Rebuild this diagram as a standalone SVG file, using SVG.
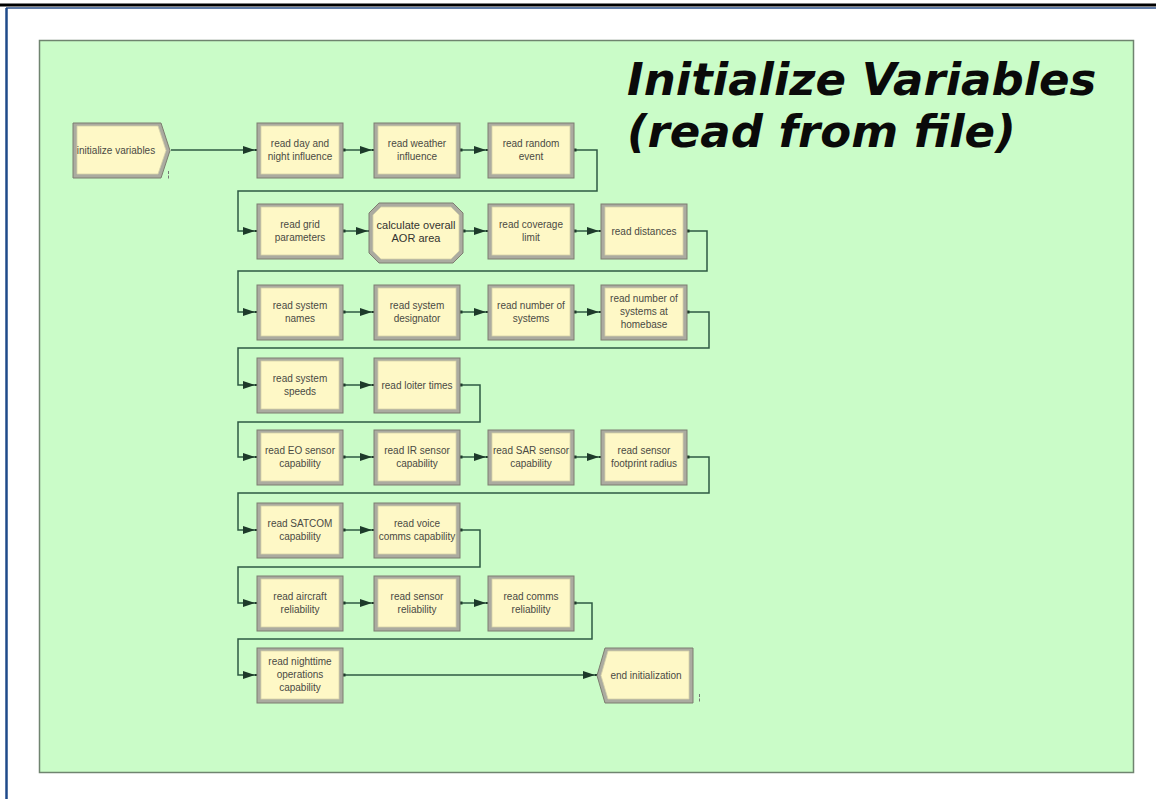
<svg xmlns="http://www.w3.org/2000/svg" width="1156" height="799" viewBox="0 0 1156 799">
<style>
.frame{fill:#ababa0;stroke:#7d7d70;stroke-width:1}
.face{fill:#fef8c6;stroke:#d6d2a8;stroke-width:0.8}
.lbl{font-family:"Liberation Sans",Arial,sans-serif;font-size:10px;fill:#4a4a44;text-anchor:middle}
.lblb{font-family:"Liberation Sans",Arial,sans-serif;font-size:11px;fill:#333330;text-anchor:middle}
.conn{fill:none;stroke:#2e5a43;stroke-width:1.5}
.title{font-family:"DejaVu Sans","Verdana",sans-serif;font-size:45px;font-weight:bold;font-style:italic;fill:#0a0a0a}
</style>
<defs>
<marker id="arr" markerUnits="userSpaceOnUse" markerWidth="14" markerHeight="9" refX="13" refY="4.5" orient="auto">
<path d="M0,0.5 L12,4.5 L0,8.5 z" fill="#1d3a2a"/>
<rect x="12" y="3.5" width="2" height="2" fill="#1d3a2a"/>
</marker>
<marker id="dot" markerUnits="userSpaceOnUse" markerWidth="4" markerHeight="4" refX="2" refY="2">
<rect x="0.5" y="0.5" width="3" height="3" fill="#1d3a2a"/>
</marker>
</defs>
<rect x="0" y="0" width="1156" height="799" fill="#ffffff"/>
<line x1="0" y1="5" x2="1156" y2="5" stroke="#000000" stroke-width="3"/>
<line x1="6" y1="8" x2="1156" y2="8" stroke="#2a4f8a" stroke-width="1.5"/>
<line x1="6.5" y1="8" x2="6.5" y2="799" stroke="#1f4a8a" stroke-width="2.5"/>
<rect x="39.5" y="40.5" width="1094" height="732" fill="#cafcc8" stroke="#6f846f" stroke-width="1.5"/>
<g id="title">
<text class="title" x="627" y="95">Initialize Variables</text>
<text class="title" x="627" y="147">(read from file)</text>
</g>
<g id="connectors">
<path class="conn" marker-end="url(#arr)" d="M171 150 H256"/>
<path class="conn" marker-start="url(#dot)" marker-end="url(#arr)" d="M344 150 H373"/>
<path class="conn" marker-start="url(#dot)" marker-end="url(#arr)" d="M461 150 H487"/>
<path class="conn" marker-start="url(#dot)" marker-end="url(#arr)" d="M575 150 H597 V191 H238 V231 H256"/>
<path class="conn" marker-start="url(#dot)" marker-end="url(#arr)" d="M344 231 H369"/>
<path class="conn" marker-start="url(#dot)" marker-end="url(#arr)" d="M464 231 H487"/>
<path class="conn" marker-start="url(#dot)" marker-end="url(#arr)" d="M575 231 H600"/>
<path class="conn" marker-start="url(#dot)" marker-end="url(#arr)" d="M688 231 H707 V271 H238 V312 H256"/>
<path class="conn" marker-start="url(#dot)" marker-end="url(#arr)" d="M344 312 H373"/>
<path class="conn" marker-start="url(#dot)" marker-end="url(#arr)" d="M461 312 H487"/>
<path class="conn" marker-start="url(#dot)" marker-end="url(#arr)" d="M575 312 H600"/>
<path class="conn" marker-start="url(#dot)" marker-end="url(#arr)" d="M688 312 H709 V348 H238 V385 H256"/>
<path class="conn" marker-start="url(#dot)" marker-end="url(#arr)" d="M344 385 H373"/>
<path class="conn" marker-start="url(#dot)" marker-end="url(#arr)" d="M461 385 H480 V422 H238 V457 H256"/>
<path class="conn" marker-start="url(#dot)" marker-end="url(#arr)" d="M344 457 H373"/>
<path class="conn" marker-start="url(#dot)" marker-end="url(#arr)" d="M461 457 H487"/>
<path class="conn" marker-start="url(#dot)" marker-end="url(#arr)" d="M575 457 H600"/>
<path class="conn" marker-start="url(#dot)" marker-end="url(#arr)" d="M688 457 H709 V493 H238 V530 H256"/>
<path class="conn" marker-start="url(#dot)" marker-end="url(#arr)" d="M344 530 H373"/>
<path class="conn" marker-start="url(#dot)" marker-end="url(#arr)" d="M461 530 H480 V567 H238 V603 H256"/>
<path class="conn" marker-start="url(#dot)" marker-end="url(#arr)" d="M344 603 H373"/>
<path class="conn" marker-start="url(#dot)" marker-end="url(#arr)" d="M461 603 H487"/>
<path class="conn" marker-start="url(#dot)" marker-end="url(#arr)" d="M575 603 H592 V639 H238 V675 H256"/>
<path class="conn" marker-start="url(#dot)" marker-end="url(#arr)" d="M344 675 H596"/>
</g>
<g id="initialize-variables">
<polygon class="frame" points="73,123 161,123 170,150.5 161,178 73,178"/>
<polygon class="face" points="77,126 158,126 166,150.5 158,174 77,174"/>
<text class="lbl" x="116" y="154">initialize variables</text>
<path d="M168.5 171 v3 M168.5 175.5 v3" stroke="#777" stroke-width="1"/>
</g>
<g id="read-day-night">
<rect class="frame" x="257" y="123" width="86" height="55"/>
<rect class="face" x="261" y="126" width="78" height="48"/>
<text class="lbl" x="300" y="147">read day and</text>
<text class="lbl" x="300" y="160">night influence</text>
</g>
<g id="read-weather">
<rect class="frame" x="374" y="123" width="86" height="55"/>
<rect class="face" x="378" y="126" width="78" height="48"/>
<text class="lbl" x="417" y="147">read weather</text>
<text class="lbl" x="417" y="160">influence</text>
</g>
<g id="read-random-event">
<rect class="frame" x="488" y="123" width="86" height="55"/>
<rect class="face" x="492" y="126" width="78" height="48"/>
<text class="lbl" x="531" y="147">read random</text>
<text class="lbl" x="531" y="160">event</text>
</g>
<g id="read-grid">
<rect class="frame" x="257" y="204" width="86" height="55"/>
<rect class="face" x="261" y="207" width="78" height="48"/>
<text class="lbl" x="300" y="228">read grid</text>
<text class="lbl" x="300" y="241">parameters</text>
</g>
<g id="calc-aor">
<polygon class="frame" points="379,203 453,203 463,213 463,253 453,263 379,263 369,253 369,213"/>
<polygon class="face" points="381,207 451,207 459,215 459,251 451,259 381,259 373,251 373,215"/>
<text class="lblb" x="416" y="229">calculate overall</text>
<text class="lblb" x="416" y="242">AOR area</text>
</g>
<g id="read-coverage">
<rect class="frame" x="488" y="204" width="86" height="55"/>
<rect class="face" x="492" y="207" width="78" height="48"/>
<text class="lbl" x="531" y="228">read coverage</text>
<text class="lbl" x="531" y="241">limit</text>
</g>
<g id="read-distances">
<rect class="frame" x="601" y="204" width="86" height="55"/>
<rect class="face" x="605" y="207" width="78" height="48"/>
<text class="lbl" x="644" y="235">read distances</text>
</g>
<g id="read-system-names">
<rect class="frame" x="257" y="285" width="86" height="55"/>
<rect class="face" x="261" y="288" width="78" height="48"/>
<text class="lbl" x="300" y="309">read system</text>
<text class="lbl" x="300" y="322">names</text>
</g>
<g id="read-system-designator">
<rect class="frame" x="374" y="285" width="86" height="55"/>
<rect class="face" x="378" y="288" width="78" height="48"/>
<text class="lbl" x="417" y="309">read system</text>
<text class="lbl" x="417" y="322">designator</text>
</g>
<g id="read-number-systems">
<rect class="frame" x="488" y="285" width="86" height="55"/>
<rect class="face" x="492" y="288" width="78" height="48"/>
<text class="lbl" x="531" y="309">read number of</text>
<text class="lbl" x="531" y="322">systems</text>
</g>
<g id="read-number-homebase">
<rect class="frame" x="601" y="285" width="86" height="55"/>
<rect class="face" x="605" y="288" width="78" height="48"/>
<text class="lbl" x="644" y="302">read number of</text>
<text class="lbl" x="644" y="315">systems at</text>
<text class="lbl" x="644" y="328">homebase</text>
</g>
<g id="read-system-speeds">
<rect class="frame" x="257" y="358" width="86" height="55"/>
<rect class="face" x="261" y="361" width="78" height="48"/>
<text class="lbl" x="300" y="382">read system</text>
<text class="lbl" x="300" y="395">speeds</text>
</g>
<g id="read-loiter">
<rect class="frame" x="374" y="358" width="86" height="55"/>
<rect class="face" x="378" y="361" width="78" height="48"/>
<text class="lbl" x="417" y="389">read loiter times</text>
</g>
<g id="read-eo">
<rect class="frame" x="257" y="430" width="86" height="55"/>
<rect class="face" x="261" y="433" width="78" height="48"/>
<text class="lbl" x="300" y="454">read EO sensor</text>
<text class="lbl" x="300" y="467">capability</text>
</g>
<g id="read-ir">
<rect class="frame" x="374" y="430" width="86" height="55"/>
<rect class="face" x="378" y="433" width="78" height="48"/>
<text class="lbl" x="417" y="454">read IR sensor</text>
<text class="lbl" x="417" y="467">capability</text>
</g>
<g id="read-sar">
<rect class="frame" x="488" y="430" width="86" height="55"/>
<rect class="face" x="492" y="433" width="78" height="48"/>
<text class="lbl" x="531" y="454">read SAR sensor</text>
<text class="lbl" x="531" y="467">capability</text>
</g>
<g id="read-footprint">
<rect class="frame" x="601" y="430" width="86" height="55"/>
<rect class="face" x="605" y="433" width="78" height="48"/>
<text class="lbl" x="644" y="454">read sensor</text>
<text class="lbl" x="644" y="467">footprint radius</text>
</g>
<g id="read-satcom">
<rect class="frame" x="257" y="503" width="86" height="55"/>
<rect class="face" x="261" y="506" width="78" height="48"/>
<text class="lbl" x="300" y="527">read SATCOM</text>
<text class="lbl" x="300" y="540">capability</text>
</g>
<g id="read-voice">
<rect class="frame" x="374" y="503" width="86" height="55"/>
<rect class="face" x="378" y="506" width="78" height="48"/>
<text class="lbl" x="417" y="527">read voice</text>
<text class="lbl" x="417" y="540">comms capability</text>
</g>
<g id="read-aircraft-rel">
<rect class="frame" x="257" y="576" width="86" height="55"/>
<rect class="face" x="261" y="579" width="78" height="48"/>
<text class="lbl" x="300" y="600">read aircraft</text>
<text class="lbl" x="300" y="613">reliability</text>
</g>
<g id="read-sensor-rel">
<rect class="frame" x="374" y="576" width="86" height="55"/>
<rect class="face" x="378" y="579" width="78" height="48"/>
<text class="lbl" x="417" y="600">read sensor</text>
<text class="lbl" x="417" y="613">reliability</text>
</g>
<g id="read-comms-rel">
<rect class="frame" x="488" y="576" width="86" height="55"/>
<rect class="face" x="492" y="579" width="78" height="48"/>
<text class="lbl" x="531" y="600">read comms</text>
<text class="lbl" x="531" y="613">reliability</text>
</g>
<g id="read-nighttime">
<rect class="frame" x="257" y="648" width="86" height="55"/>
<rect class="face" x="261" y="651" width="78" height="48"/>
<text class="lbl" x="300" y="665">read nighttime</text>
<text class="lbl" x="300" y="678">operations</text>
<text class="lbl" x="300" y="691">capability</text>
</g>
<g id="end-initialization">
<polygon class="frame" points="605,648 693,648 693,703 605,703 597,675.5"/>
<polygon class="face" points="608,651 689,651 689,699 608,699 601,675.5"/>
<text class="lbl" x="646" y="679">end initialization</text>
<path d="M699.5 694 v3 M699.5 698.5 v3" stroke="#777" stroke-width="1"/>
</g>
</svg>
